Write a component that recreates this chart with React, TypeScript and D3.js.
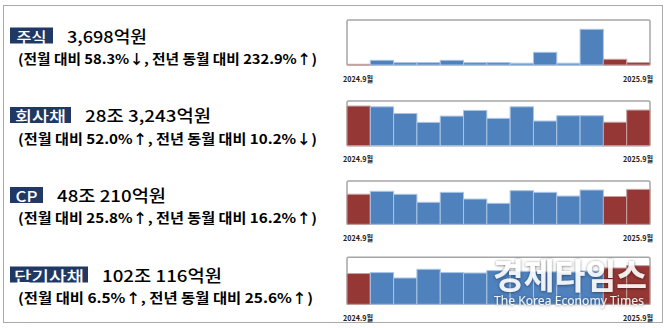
import React from 'react';
import * as d3 from 'd3';

const months = ['2024.9', '2024.10', '2024.11', '2024.12', '2025.1', '2025.2', '2025.3', '2025.4', '2025.5', '2025.6', '2025.7', '2025.8', '2025.9'];
const highlight = [true, false, false, false, false, false, false, false, false, false, false, true, true];

// 주식 (억원)
const stockValues = [1111, 7300, 3600, 3600, 7300, 3600, 3600, 2700, 19700, 2700, 55500, 8866, 3698];
// 회사채 (조원)
const bondValues = [31.5, 30.9, 25.6, 18.5, 23.5, 28.0, 21.7, 30.9, 19.6, 23.8, 23.8, 18.63, 28.32];
// CP (조원)
const cpValues = [41.3, 45.3, 41.2, 30.2, 43.9, 34.7, 28.8, 46.2, 43.9, 38.8, 47.1, 38.17, 48.02];
// 단기사채 (조원)
const stbValues = [81.2, 83.7, 69.4, 92.4, 83.7, 82.6, 89.0, 87.0, 85.5, 85.0, 87.5, 95.8, 102.01];

const seriesValues = [stockValues, bondValues, cpValues, stbValues];
const yMax = [70000, 35.5, 59.5, 124];

const titles = ['주식', '회사채', 'CP', '단기사채'];
const amounts = ['3,698억원', '28조 3,243억원', '48조 210억원', '102조 116억원'];
const changes = [
  '(전월 대비 58.3%↓, 전년 동월 대비 232.9%↑)',
  '(전월 대비 52.0%↑, 전년 동월 대비 10.2%↓)',
  '(전월 대비 25.8%↑, 전년 동월 대비 16.2%↑)',
  '(전월 대비 6.5%↑, 전년 동월 대비 25.6%↑)',
];
const startLabel = '2024.9월';
const endLabel = '2025.9월';
const watermarkKo = '경제타임스';
const watermarkEn = 'The Korea Economy Times';

const FONT = '"Noto Sans CJK KR", "Noto Sans", sans-serif';

const panels = [
  { top: 20, base: 65, labelW: 43, labelTextW: 30, amountW: 80, changeW: 299, cy: 35.5, subY: 57.5 },
  { top: 101, base: 145.7, labelW: 61, labelTextW: 51, amountW: 126, changeW: 299, cy: 115, subY: 138 },
  { top: 181, base: 224.3, labelW: 33, labelTextW: 22, amountW: 109, changeW: 299, cy: 195, subY: 217 },
  { top: 257.3, base: 304.3, labelW: 78, labelTextW: 70, amountW: 120, changeW: 295, cy: 274.5, subY: 297 },
];

const chartLeft = 347;
const chartRight = 650;

export default function App() {
  const x = d3.scaleBand<string>().domain(months).range([chartLeft, chartRight]).padding(0);
  return (
    <svg width={666} height={328} style={{ position: 'absolute', left: 0, top: 0, background: '#fff' }} fontFamily={FONT}>
      <defs>
        <filter id="wmShadow" x="-10%" y="-30%" width="120%" height="160%">
          <feDropShadow dx="0" dy="0.5" stdDeviation="1.5" floodColor="#000" floodOpacity="0.6" />
        </filter>
      </defs>
      <rect x={3.5} y={5.5} width={659} height={317} fill="none" stroke="#555" strokeWidth={1} strokeDasharray="1,1" />
      {panels.map((p, i) => {
        const y = d3.scaleLinear().domain([0, yMax[i]]).range([p.base, p.top]);
        const vals = seriesValues[i];
        const boxX = 10;
        const boxH = 16;
        return (
          <g key={i}>
            <rect x={boxX} y={p.cy - boxH / 2} width={p.labelW} height={boxH} fill="#203864" />
            <text x={boxX + p.labelW / 2} y={p.cy + 0.5} fill="#fff" fontSize={15} fontWeight={500} textAnchor="middle" dominantBaseline="central" textLength={p.labelTextW} lengthAdjust="spacingAndGlyphs">{titles[i]}</text>
            <text x={boxX + p.labelW + 14} y={p.cy} fill="#000" fontSize={16.5} fontWeight={500} dominantBaseline="central" textLength={p.amountW} lengthAdjust="spacingAndGlyphs">{amounts[i]}</text>
            <text x={18} y={p.subY} fill="#000" fontSize={13.5} fontWeight={700} dominantBaseline="central" textLength={p.changeW} lengthAdjust="spacingAndGlyphs">{changes[i]}</text>

            <rect x={chartLeft} y={p.top} width={chartRight - chartLeft} height={p.base - p.top} fill="#fff" stroke="#a6a6a6" strokeWidth={1.5} rx={1.5} />
            {vals.map((v, j) => (
              <rect key={j} x={x(months[j])!} y={y(v)} width={x.bandwidth()} height={p.base - y(v)}
                fill={highlight[j] ? '#953735' : '#4f81bd'} stroke={highlight[j] ? '#c9a0a0' : '#a9c4e4'} strokeWidth={1} />
            ))}
            <text x={343} y={p.base + 13} fontSize={8} fontWeight={700} fill="#222" dominantBaseline="central" textLength={30} lengthAdjust="spacingAndGlyphs">{startLabel}</text>
            <text x={653} y={p.base + 13} fontSize={8} fontWeight={700} fill="#222" textAnchor="end" dominantBaseline="central" textLength={30} lengthAdjust="spacingAndGlyphs">{endLabel}</text>
          </g>
        );
      })}
      <g filter="url(#wmShadow)" opacity={0.9}>
        <g transform="translate(493,274) scale(1,1.15)">
          <text x={0} y={0} fill="#fff" fontSize={30.5} fontWeight={700} dominantBaseline="central" textLength={154} lengthAdjust="spacingAndGlyphs">{watermarkKo}</text>
        </g>
        <text x={494} y={300} fill="#fff" fontSize={12.5} fontWeight={400} dominantBaseline="central" fontFamily='"Noto Sans", sans-serif' textLength={150} lengthAdjust="spacingAndGlyphs">{watermarkEn}</text>
      </g>
    </svg>
  );
}
